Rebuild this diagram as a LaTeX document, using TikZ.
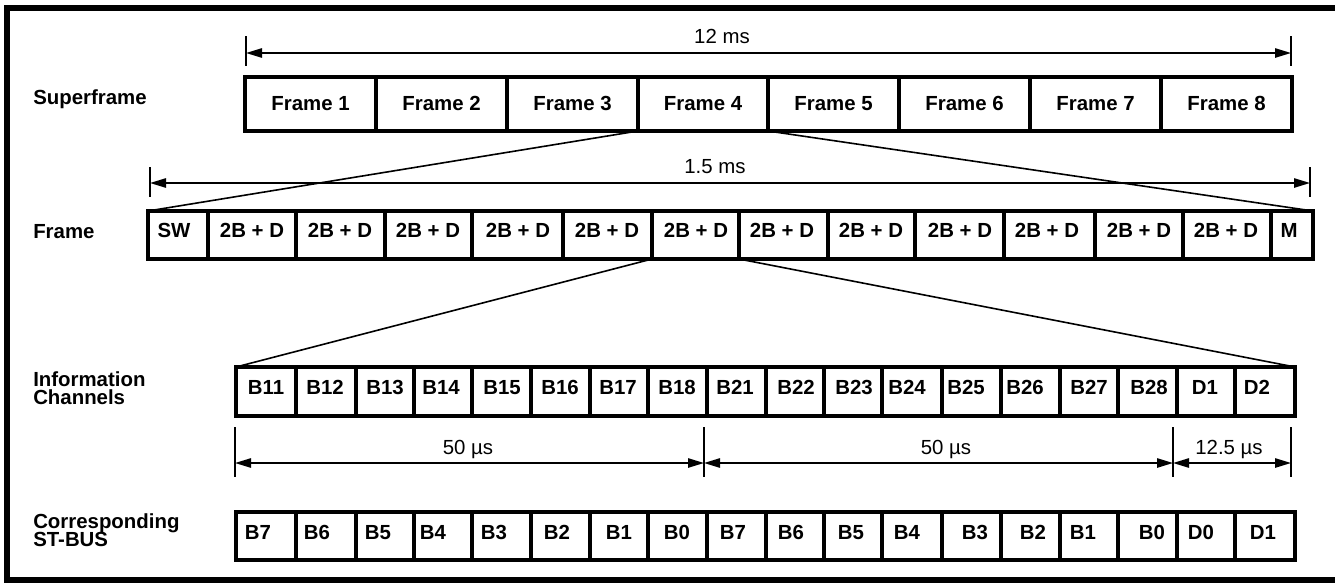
\documentclass[tikz,border=0pt]{standalone}
\usepackage{fontspec}
\setmainfont{Liberation Sans}
\usetikzlibrary{arrows.meta,fit}
\begin{document}
\begin{tikzpicture}[x=0.75pt,y=-0.75pt,
  cell/.style={draw, line width=2.6pt, inner sep=0pt, outer sep=0pt},
  txt/.style={font=\fontsize{15.3}{10.5}\selectfont\bfseries, inner sep=0pt, anchor=base},
  rtxt/.style={font=\fontsize{15.3}{10.5}\selectfont, inner sep=0pt, anchor=base},
  lbl/.style={font=\fontsize{15.3}{10.5}\selectfont\bfseries, inner sep=0pt, anchor=base west},
  thinline/.style={line width=1.2pt},
  dim/.style={line width=1.2pt, {Triangle[length=12pt,width=7pt]}-{Triangle[length=12pt,width=7pt]}},
  tick/.style={line width=1.2pt}]
\clip (0,0) rectangle (1335,582);
% outer frame
\draw[line width=4.5pt] (1345,8) -- (7,8) -- (7,580) -- (1345,580);

% row labels
\node[lbl] (lsuper) at (33,104) {Superframe};
\node[lbl] (lframe) at (33,238) {Frame};
\node[lbl] (linfoa) at (33,386) {Information};
\node[lbl] (linfob) at (33,404) {Channels};
\node[lbl] (lsta) at (33,528) {Corresponding};
\node[lbl] (lstb) at (33,546) {ST-BUS};

% superframe row
\foreach \i/\l/\r in {1/245/376,2/376/507,3/507/638,4/638/768,5/768/899,6/899/1030,7/1030/1161,8/1161/1292}{
  \node[cell, fit={(\l,77)(\r,131)}] (sf\i) {};
  \node[txt] (sft\i) at ({(\l+\r)/2},110) {Frame \i};
}

% frame row
\foreach \i/\l/\r/\c/\t in {1/148/208/174/SW,2/208/296/252/2B + D,3/296/385/340/2B + D,4/385/472/428/2B + D,5/472/563/518/2B + D,6/563/652/607/2B + D,7/652/739/696/2B + D,8/739/828/782/2B + D,9/828/915/871/2B + D,10/915/1004/960/2B + D,11/1004/1095/1047/2B + D,12/1095/1183/1139/2B + D,13/1183/1271/1226/2B + D,14/1271/1313/1289/M}{
  \node[cell, fit={(\l,211)(\r,259)}] (fr\i) {};
  \node[txt] (frt\i) at (\c,237) {\t};
}

% information channels row
\foreach \i/\l/\r/\c/\t in {1/236/296/266/B11,2/296/356/325/B12,3/356/414/385/B13,4/414/472/441/B14,5/472/531/502/B15,6/531/590/560/B16,7/590/648/618/B17,8/648/707/677/B18,9/707/766/735/B21,10/766/824/796/B22,11/824/882/854/B23,12/882/942/907/B24,13/942/1001/966/B25,14/1001/1060/1025/B26,15/1060/1118/1089/B27,16/1118/1177/1149/B28,17/1177/1235/1205/D1,18/1235/1295/1257/D2}{
  \node[cell, fit={(\l,367)(\r,416)}] (ic\i) {};
  \node[txt] (ict\i) at (\c,394) {\t};
}

% ST-BUS row
\foreach \i/\l/\r/\c/\t in {1/236/296/258/B7,2/296/356/317/B6,3/356/414/378/B5,4/414/472/433/B4,5/472/531/494/B3,6/531/590/557/B2,7/590/648/619/B1,8/648/707/677/B0,9/707/766/733/B7,10/766/824/791/B6,11/824/882/851/B5,12/882/942/907/B4,13/942/1001/975/B3,14/1001/1060/1033/B2,15/1060/1118/1083/B1,16/1118/1177/1152/B0,17/1177/1235/1201/D0,18/1235/1295/1263/D1}{
  \node[cell, fit={(\l,512)(\r,560)}] (st\i) {};
  \node[txt] (stt\i) at (\c,539) {\t};
}

% expansion lines
\draw[thinline] (sf4.south west) -- (fr1.north west);
\draw[thinline] (sf4.south east) -- (fr14.north east);
\draw[thinline] (fr7.south west) -- (ic1.north west);
\draw[thinline] (fr7.south east) -- (ic18.north east);

% 12 ms dimension
\coordinate (a1) at (246,53);
\coordinate (a2) at (1291,53);
\draw[tick] (246,36) -- (246,66);
\draw[tick] (1291,36) -- (1291,66);
\draw[dim] (a1) -- (a2);
\node[rtxt] (l12) at (722,43) {12 ms};

% 1.5 ms dimension
\coordinate (b1) at (150,183);
\coordinate (b2) at (1310,183);
\draw[tick] (150,167) -- (150,197);
\draw[tick] (1310,167) -- (1310,197);
\draw[dim] (b1) -- (b2);
\node[rtxt] (l15) at (715,173) {1.5 ms};

% microsecond dimensions
\coordinate (c1) at (235,463);
\coordinate (c2) at (704,463);
\coordinate (c3) at (1173,463);
\coordinate (c4) at (1291,463);
\foreach \x in {235,704,1173,1291}{\draw[tick] (\x,427) -- (\x,477);}
\draw[dim] (c1) -- (c2);
\draw[dim] (c2) -- (c3);
\draw[dim] (c3) -- (c4);
\node[rtxt] (l50a) at (468,454) {50 µs};
\node[rtxt] (l50b) at (946,454) {50 µs};
\node[rtxt] (l125) at (1229,454) {12.5 µs};
\end{tikzpicture}
\end{document}
